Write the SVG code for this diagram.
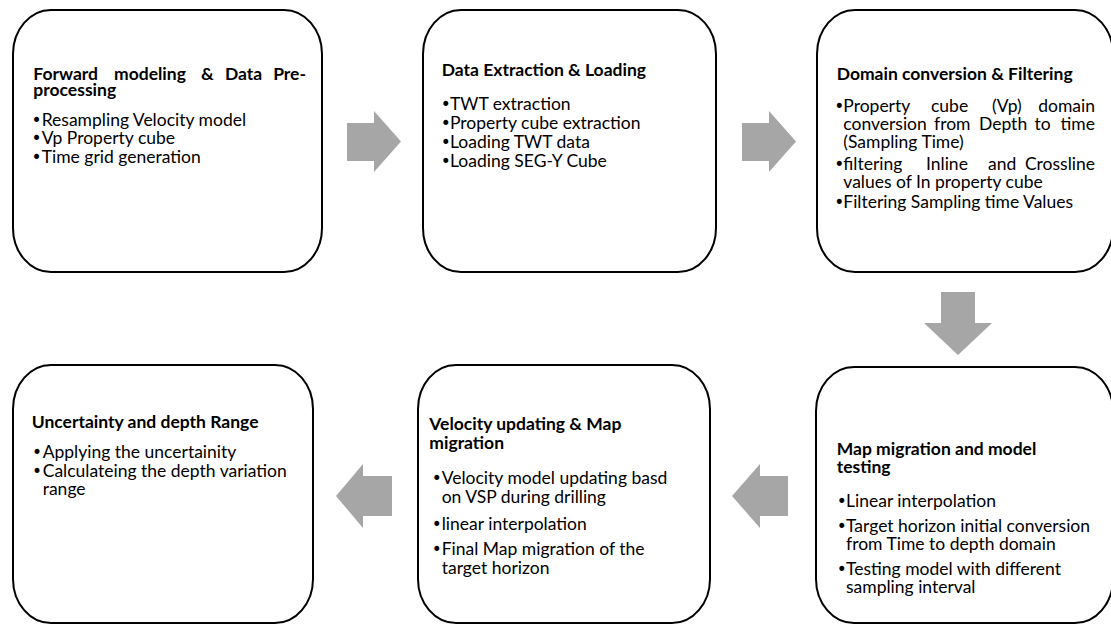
<svg xmlns="http://www.w3.org/2000/svg" width="1111" height="624" viewBox="0 0 1111 624">
<style>
.box{fill:#fff;stroke:#000;stroke-width:2}
.arrow{fill:#A6A6A6;stroke:none}
.t{font-family:Lato,"Open Sans","Liberation Sans",sans-serif;font-size:17.5px;fill:#000}
.h{font-weight:bold}
.b{font-family:"DejaVu Sans",sans-serif;font-size:17px;fill:#000;text-anchor:middle}
.e{text-anchor:end}
</style>
<rect width="1111" height="624" fill="#fff"/>
<g id="connectors">
<polygon class="arrow" points="347,123 374,123 374,111 401,141.5 374,172 374,161 347,161"/>
<polygon class="arrow" points="742,123 769,123 769,111 796,141.5 769,172 769,161 742,161"/>
<polygon class="arrow" points="941,292 975,292 975,323 992,323 958,355 924,323 941,323"/>
<polygon class="arrow" points="788,476 760,476 760,464 732,496 760,528 760,516 788,516"/>
<polygon class="arrow" points="392,476 363,476 363,464 336,496 363,528 363,516 392,516"/>
</g>
<g id="node1">
<rect class="box" x="13" y="10" width="309" height="262" rx="38" ry="44"/>
<text class="t h" y="80"><tspan x="33.3">Forward</tspan><tspan x="114">modeling</tspan><tspan x="201">&amp;</tspan><tspan x="225">Data</tspan></text>
<text class="t h e" x="306" y="80">Pre-</text>
<text class="t h" x="33.3" y="96">processing</text>
<text class="b" x="36.5" y="125.5">•</text><text class="t" x="41.7" y="125.7">Resampling Velocity model</text>
<text class="b" x="36.5" y="144">•</text><text class="t" x="41.7" y="144.3">Vp Property cube</text>
<text class="b" x="36.5" y="162.5">•</text><text class="t" x="41.7" y="163">Time grid generation</text>
</g>
<g id="node2">
<rect class="box" x="423" y="10" width="293" height="262" rx="38" ry="44"/>
<text class="t h" x="441.7" y="76">Data Extraction &amp; Loading</text>
<text class="b" x="445.7" y="110">•</text><text class="t" x="450" y="110">TWT extraction</text>
<text class="b" x="445.7" y="129">•</text><text class="t" x="450" y="129">Property cube extraction</text>
<text class="b" x="445.7" y="148">•</text><text class="t" x="450" y="148">Loading TWT data</text>
<text class="b" x="445.7" y="167">•</text><text class="t" x="450" y="167">Loading SEG-Y Cube</text>
</g>
<g id="node3">
<rect class="box" x="817" y="10" width="296" height="262" rx="38" ry="44"/>
<text class="t h" x="836.7" y="80">Domain conversion &amp; Filtering</text>
<text class="b" x="839.3" y="112">•</text>
<text class="t" y="112"><tspan x="843.3">Property</tspan><tspan x="931">cube</tspan><tspan x="992">(Vp)</tspan></text>
<text class="t e" x="1095" y="112">domain</text>
<text class="t" y="130"><tspan x="843.3">conversion</tspan><tspan x="934">from</tspan><tspan x="979">Depth</tspan><tspan x="1034.5">to</tspan></text>
<text class="t e" x="1095" y="130">time</text>
<text class="t" x="843.3" y="148">(Sampling Time)</text>
<text class="b" x="839.3" y="170">•</text>
<text class="t" y="170"><tspan x="843.3">filtering</tspan><tspan x="926">Inline</tspan><tspan x="988">and</tspan></text>
<text class="t e" x="1095" y="170">Crossline</text>
<text class="t" x="843.3" y="188">values of In property cube</text>
<text class="b" x="839.3" y="208">•</text><text class="t" x="843.3" y="208">Filtering Sampling time Values</text>
</g>
<g id="node6">
<rect class="box" x="816" y="367" width="297" height="256" rx="38" ry="44"/>
<text class="t h" x="836.7" y="455">Map migration and model</text>
<text class="t h" x="836.7" y="473">testing</text>
<text class="b" x="841.7" y="507">•</text><text class="t" x="846" y="507">Linear interpolation</text>
<text class="b" x="841.7" y="532">•</text><text class="t" x="846" y="532">Target horizon initial conversion</text>
<text class="t" x="846" y="550">from Time to depth domain</text>
<text class="b" x="841.7" y="575">•</text><text class="t" x="846" y="575">Testing model with different</text>
<text class="t" x="846" y="593">sampling interval</text>
</g>
<g id="node5">
<rect class="box" x="418" y="365" width="292" height="258" rx="38" ry="44"/>
<text class="t h" x="429.3" y="430">Velocity updating &amp; Map</text>
<text class="t h" x="429.3" y="449">migration</text>
<text class="b" x="436.7" y="484">•</text><text class="t" x="441.7" y="484">Velocity model updating basd</text>
<text class="t" x="441.7" y="503">on VSP during drilling</text>
<text class="b" x="436.7" y="530">•</text><text class="t" x="441.7" y="530">linear interpolation</text>
<text class="b" x="436.7" y="555">•</text><text class="t" x="441.7" y="555">Final Map migration of the</text>
<text class="t" x="441.7" y="574">target horizon</text>
</g>
<g id="node4">
<rect class="box" x="13" y="365" width="300" height="258" rx="38" ry="44"/>
<text class="t h" x="31.7" y="428">Uncertainty and depth Range</text>
<text class="b" x="37" y="458">•</text><text class="t" x="42.7" y="458">Applying the uncertainity</text>
<text class="b" x="37" y="477">•</text><text class="t" x="42.7" y="477">Calculateing the depth variation</text>
<text class="t" x="42.7" y="495">range</text>
</g>
</svg>
